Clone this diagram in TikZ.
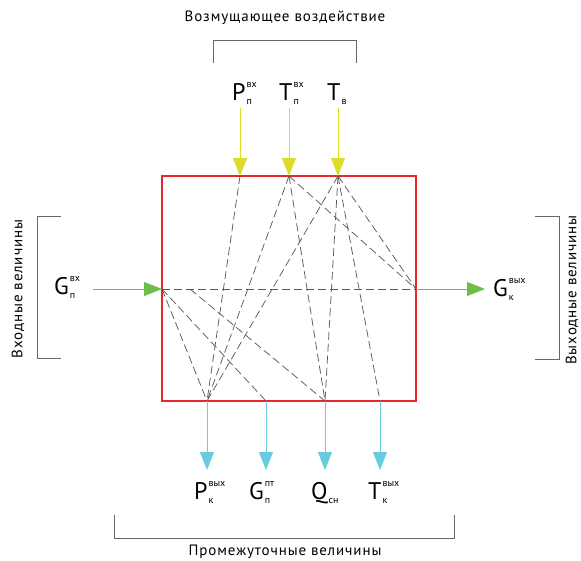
\documentclass[tikz,border=0pt]{standalone}
\usepackage{fontspec}
\setmainfont{PT Sans}
\newfontfamily\capfont[LetterSpace=6]{PT Sans}
\usetikzlibrary{arrows.meta}

\definecolor{boxred}{RGB}{232,38,43}
\definecolor{inyellow}{RGB}{221,221,40}
\definecolor{flowgreen}{RGB}{108,190,72}
\definecolor{outcyan}{RGB}{104,204,222}
\definecolor{linkgray}{RGB}{90,90,90}

% letter with upper and lower index
\newcommand{\qsym}[3]{{\fontsize{24}{24}\selectfont #1}\kern1pt\rlap{\raisebox{13pt}{\fontsize{10}{10}\selectfont #2}}\raisebox{-4pt}{\fontsize{10}{10}\selectfont #3}}

\tikzset{
    qty/.style={inner sep=0pt, anchor=base west},
    caption/.style={inner sep=0pt, font=\capfont\fontsize{15}{15}\selectfont},
    bracket/.style={draw=gray!80!black, line width=0.7pt},
    link/.style={draw=linkgray, line width=0.75pt, dash pattern=on 8pt off 4pt},
    flow/.style={line width=0.9pt, -{Triangle[length=18pt,width=14pt]}},
}

\begin{document}
\begin{tikzpicture}[x=1pt, y=-1pt]
    \useasboundingbox (0,0) rectangle (581,560);

    % object
    \draw[boxred, line width=1.5pt] (162,176) rectangle (416,401);
    \coordinate (a1) at (240,176);
    \coordinate (a2) at (289,176);
    \coordinate (a3) at (338,176);
    \coordinate (l) at (162,289);
    \coordinate (m) at (190,289);
    \coordinate (r) at (416,289);
    \coordinate (b1) at (207,401);
    \coordinate (b2) at (266,401);
    \coordinate (b3) at (325,401);
    \coordinate (b4) at (380,401);

    % internal links
    \draw[link] (l) -- (r);
    \foreach \p/\q in {a1/b1, a2/b1, a2/b3, a2/r, a3/b1, a3/b3, a3/b4, a3/r, l/b1, l/b2, m/b3}
        \draw[link] (\p) -- (\q);

    % disturbances
    \node[caption] (dist) at (285,18) {Возмущающее воздействие};
    \draw[bracket] (213,63) -- (213,40) -- (356,40) -- (356,63);
    \node[qty] (pin) at (232,100) {\qsym{P}{вх}{п}};
    \node[qty] (tin) at (279,100) {\qsym{T}{вх}{п}};
    \node[qty] (tv) at (327,100) {\qsym{T}{}{в}};
    \coordinate (pin-s) at (240,108);
    \coordinate (tin-s) at (289,108);
    \coordinate (tv-s) at (338,108);
    \foreach \s/\e in {pin-s/a1, tin-s/a2, tv-s/a3}
        \draw[flow, inyellow] (\s) -- (\e);

    % input
    \node[caption, rotate=90] (inp) at (18,289) {Входные величины};
    \draw[bracket] (61,216) -- (37,216) -- (37,358) -- (61,358);
    \node[qty] (gin) at (54,294) {\qsym{G}{вх}{п}};
    \coordinate (gin-e) at (93,289);
    \draw[flow, flowgreen] (gin-e) -- (l);

    % output
    \node[caption, rotate=90] (outp) at (572,290) {Выходные величины};
    \draw[bracket] (535,216) -- (559,216) -- (559,359) -- (535,359);
    \node[qty] (gout) at (493,296) {\qsym{G}{вых}{к}};
    \coordinate (gout-w) at (485,289);
    \draw[flow, flowgreen] (r) -- (gout-w);

    % intermediate
    \node[qty] (pout) at (194,499) {\qsym{P}{вых}{к}};
    \node[qty] (gnt) at (249,499) {\qsym{G}{пт}{п}};
    \node[qty] (qsn) at (311,499) {\qsym{Q}{}{сн}};
    \node[qty] (tout) at (368,499) {\qsym{T}{вых}{к}};
    \coordinate (pout-n) at (207,470);
    \coordinate (gnt-n) at (266,470);
    \coordinate (qsn-n) at (325,470);
    \coordinate (tout-n) at (380,470);
    \foreach \b/\e in {b1/pout-n, b2/gnt-n, b3/qsn-n, b4/tout-n}
        \draw[flow, outcyan] (\b) -- (\e);
    \draw[bracket] (114,515) -- (114,538) -- (454,538) -- (454,515);
    \node[caption] (mid) at (285,552) {Промежуточные величины};
\end{tikzpicture}
\end{document}
